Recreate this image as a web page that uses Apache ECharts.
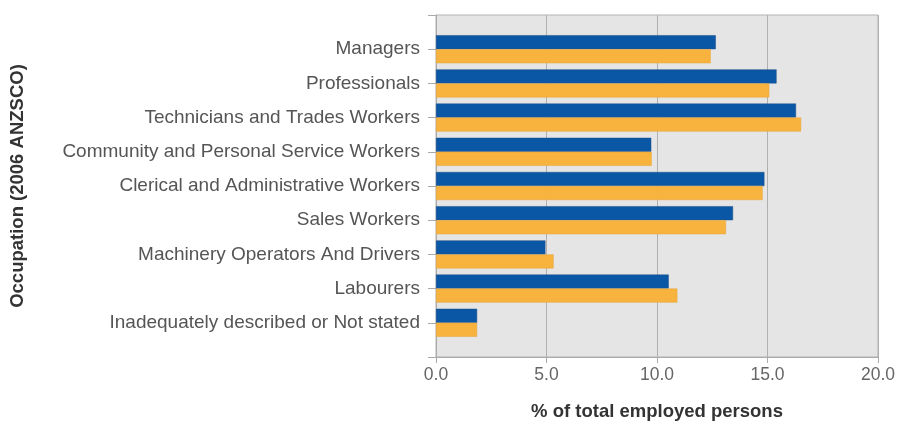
<!DOCTYPE html>
<html>
<head>
<meta charset="utf-8">
<script src="https://cdn.jsdelivr.net/npm/echarts@6/dist/echarts.min.js"></script>
<style>html,body{margin:0;padding:0;background:#fff}#c{width:899px;height:430px}</style>
</head>
<body>
<div id="c"></div>
<script>
const categories = [
  'Managers',
  'Professionals',
  'Technicians and Trades Workers',
  'Community and Personal Service Workers',
  'Clerical and Administrative Workers',
  'Sales Workers',
  'Machinery Operators And Drivers',
  'Labourers',
  'Inadequately described or Not stated'
];
const seriesBlue = [12.66, 15.41, 16.29, 9.74, 14.86, 13.44, 4.95, 10.53, 1.86];
const seriesOrange = [12.43, 15.08, 16.52, 9.76, 14.78, 13.12, 5.32, 10.92, 1.86];
const xTicks = [0, 5, 10, 15, 20];

// pad both ends so the category axis leaves a half step of space above and below
const padCats = [''].concat(categories, ['']);
const pad = arr => [null].concat(arr, [null]);

const chart = echarts.init(document.getElementById('c'));
const labelFont = 'Liberation Sans';
chart.setOption({
  animation: false,
  grid: {
    left: 436, right: 21, top: 15, bottom: 73,
    show: true, backgroundColor: '#e5e5e5', borderColor: '#b3b3b3', borderWidth: 1
  },
  xAxis: {
    type: 'value',
    min: xTicks[0], max: xTicks[xTicks.length - 1], interval: 5,
    name: '% of total employed persons',
    nameLocation: 'middle', nameGap: 45,
    nameTextStyle: { fontFamily: labelFont, fontWeight: 'bold', fontSize: 18.5, color: '#333' },
    axisLine: { show: true, lineStyle: { color: '#aaaaaa', width: 1 } },
    axisTick: { show: true, length: 6, lineStyle: { color: '#aaaaaa' } },
    axisLabel: { formatter: v => v.toFixed(1), fontFamily: labelFont, fontSize: 17.5, color: '#666', margin: 9 },
    splitLine: { show: true, lineStyle: { color: '#b0b0b0', width: 1 } }
  },
  yAxis: {
    type: 'category',
    data: padCats,
    inverse: true,
    boundaryGap: false,
    name: 'Occupation (2006 ANZSCO)',
    nameLocation: 'middle', nameRotate: 90, nameGap: 409,
    nameTextStyle: { fontFamily: labelFont, fontWeight: 'bold', fontSize: 18.5, color: '#333' },
    axisLine: { show: true, lineStyle: { color: '#aaaaaa', width: 1 } },
    axisTick: { show: true, length: 8, lineStyle: { color: '#aaaaaa' } },
    axisLabel: { fontFamily: labelFont, fontSize: 19, color: '#555', margin: 16, interval: 0 },
    splitLine: { show: false }
  },
  series: [
    {
      type: 'bar', data: pad(seriesBlue), barWidth: 14, barGap: '0%',
      itemStyle: { color: '#0a57a6', borderColor: '#1d4f86', borderWidth: 0.5 }
    },
    {
      type: 'bar', data: pad(seriesOrange), barWidth: 14, barGap: '0%',
      itemStyle: { color: '#f8b33e', borderColor: '#e6a437', borderWidth: 0.5 }
    }
  ]
});
</script>
</body>
</html>
